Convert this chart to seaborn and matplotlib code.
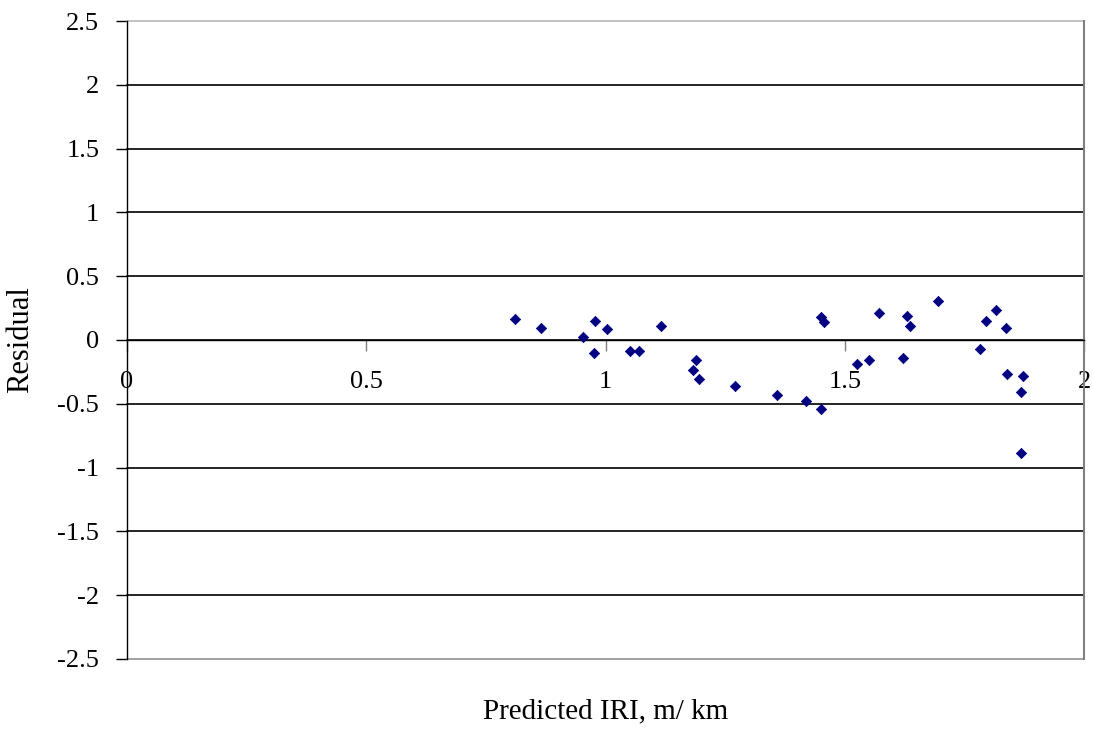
import matplotlib
matplotlib.use("Agg")
import matplotlib.pyplot as plt
import seaborn as sns
import pandas as pd

predicted_iri = [0.811, 0.866, 0.953, 0.978, 0.975, 1.004, 1.052, 1.069, 1.116,
                 1.189, 1.182, 1.196, 1.271, 1.358, 1.420, 1.451, 1.451, 1.457,
                 1.526, 1.550, 1.572, 1.622, 1.630, 1.637, 1.695, 1.782, 1.796,
                 1.817, 1.837, 1.839, 1.873, 1.868, 1.868]
residual = [0.165, 0.094, 0.024, 0.151, -0.104, 0.086, -0.086, -0.086, 0.112,
            -0.157, -0.238, -0.308, -0.361, -0.428, -0.478, -0.543, 0.183, 0.144,
            -0.191, -0.154, 0.212, -0.141, 0.188, 0.112, 0.308, -0.068, 0.146,
            0.235, 0.096, -0.269, -0.280, -0.405, -0.886]

x_ticks = [0, 0.5, 1, 1.5, 2]
x_tick_labels = ["0", "0.5", "1", "1.5", "2"]
y_ticks = [-2.5, -2, -1.5, -1, -0.5, 0, 0.5, 1, 1.5, 2, 2.5]
y_tick_labels = ["-2.5", "-2", "-1.5", "-1", "-0.5", "0", "0.5", "1", "1.5", "2", "2.5"]

df = pd.DataFrame({"Predicted IRI": predicted_iri, "Residual": residual})

sns.set_style("white")
plt.rcParams["font.family"] = ["Liberation Serif", "DejaVu Serif"]
plt.rcParams["text.color"] = "black"
plt.rcParams["axes.labelcolor"] = "black"
plt.rcParams["xtick.color"] = "black"
plt.rcParams["ytick.color"] = "black"

fig = plt.figure(figsize=(10.93, 7.3), dpi=100)
ax = fig.add_axes([0.1162, 0.0973, 0.8756, 0.8739])

sns.scatterplot(data=df, x="Predicted IRI", y="Residual", ax=ax, marker="D",
                color="#000080", edgecolor="#000080", s=28, linewidth=0.5, zorder=3)

ax.set_xlim(0, 2)
ax.set_ylim(-2.5, 2.5)
ax.set_xticks(x_ticks)
ax.set_xticklabels(x_tick_labels)
ax.set_yticks(y_ticks)
ax.set_yticklabels(y_tick_labels)

for yv in y_ticks:
    if yv == 2.5:
        col = "#b8b8b8"
    elif yv == -2.5:
        col = "#909090"
    else:
        col = "black"
    ax.axhline(yv, color=col, linewidth=1.2, zorder=1, clip_on=False)

ax.spines["bottom"].set_position(("data", 0))
ax.spines["bottom"].set_color("black")
ax.spines["bottom"].set_linewidth(1.0)
ax.spines["left"].set_color("black")
ax.spines["left"].set_linewidth(1.0)
ax.spines["left"].set_zorder(2)
ax.spines["right"].set_visible(True)
ax.spines["right"].set_color("#808080")
ax.spines["right"].set_linewidth(1.5)
ax.spines["top"].set_visible(False)

ax.tick_params(axis="x", direction="out", length=8, width=1, color="#808080",
               labelcolor="black", pad=14, labelsize=19, bottom=True)
ax.tick_params(axis="y", direction="out", length=8, width=1, color="black",
               labelcolor="black", pad=12, labelsize=19, left=True)

ax.set_xlabel("Predicted IRI, m/ km", fontsize=21)
ax.set_ylabel("Residual", fontsize=22)
ax.xaxis.set_label_coords(0.5, -0.062)
ax.yaxis.set_label_coords(-0.096, 0.5)

fig.savefig("out.png", dpi=100)
